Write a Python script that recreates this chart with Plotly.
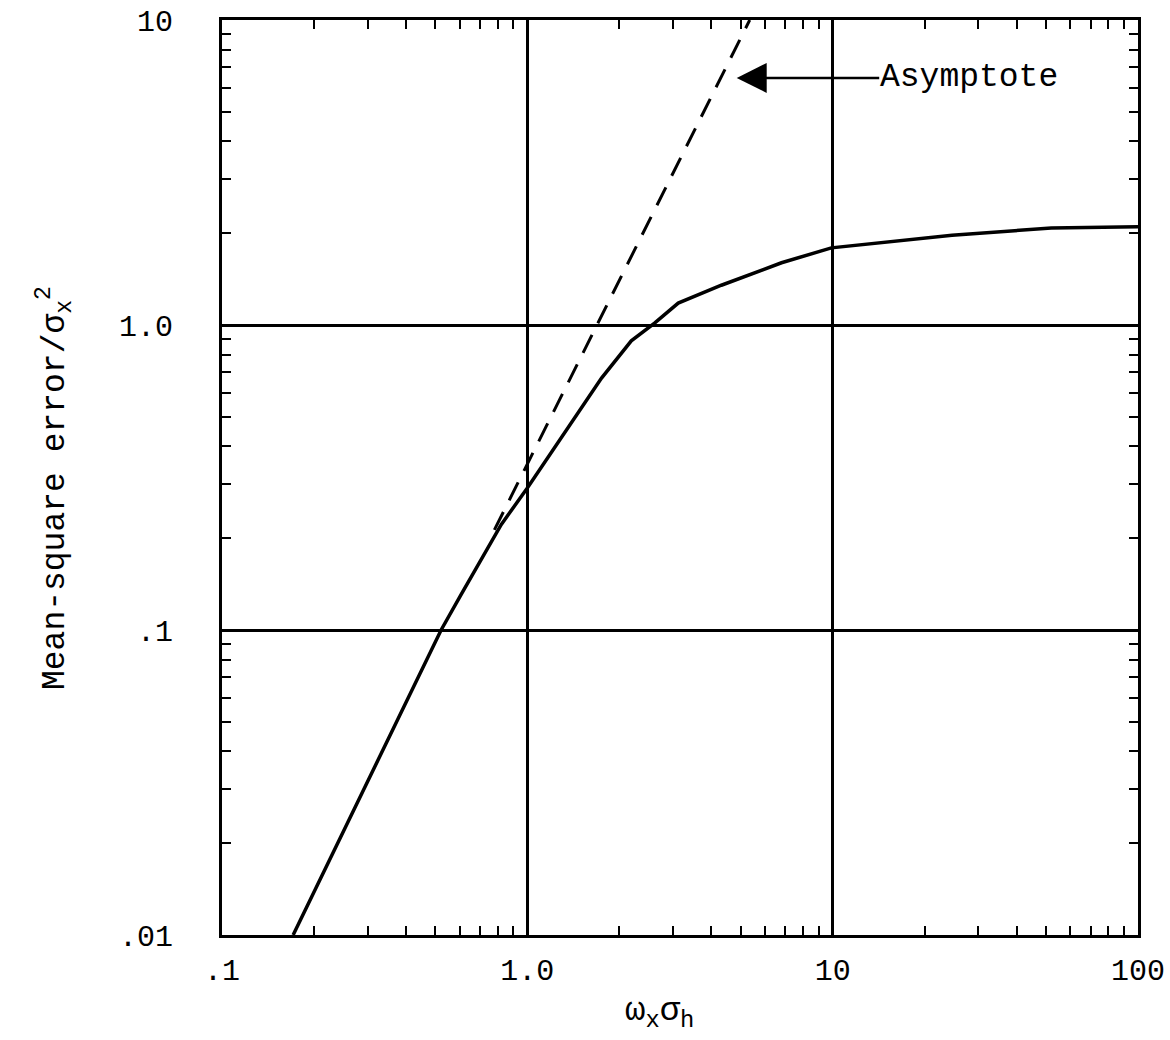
import math
import plotly.graph_objects as go

# Solid curve: mean-square error / sigma_x^2 vs omega_x*sigma_h
curve_x = [0.171, 0.522, 0.608, 0.822, 1.0, 1.36, 1.75, 2.19, 2.61, 3.12, 4.32, 6.8, 9.9, 24.6, 52.0, 100.0]
curve_y = [0.01, 0.10, 0.131, 0.222, 0.292, 0.46, 0.67, 0.887, 1.015, 1.18, 1.35, 1.60, 1.79, 1.97, 2.08, 2.10]

# Dashed asymptote
asym_x = [0.78, 5.35]
asym_y = [0.213, 10.0]

x_tickvals = [0.1, 1, 10, 100]
x_ticktext = [".1", "1.0", "10", "100"]
y_tickvals = [0.01, 0.1, 1, 10]
y_ticktext = [".01", ".1", "1.0", "10"]

arrow_head = (4.85, 6.46)
label_text = "Asymptote"
x_title = "ω<sub>x</sub>σ<sub>h</sub>"
y_title = "Mean-square error/σ<sub>x</sub><sup>2</sup>"

FONT = "Liberation Mono, Courier New, monospace"

W, H = 1170, 1040
L, R, T, B = 222, 32, 20, 105
PW, PH = W - L - R, H - T - B


def px_to_paper_x(px):
    return (px - L) / PW


def px_to_paper_y(py):
    return (T + PH - py) / PH


fig = go.Figure()
fig.add_trace(go.Scatter(x=curve_x, y=curve_y, mode="lines",
                         line=dict(color="black", width=3.5), showlegend=False))
fig.add_trace(go.Scatter(x=asym_x, y=asym_y, mode="lines",
                         line=dict(color="black", width=3, dash="20px,13px"), showlegend=False))

fig.add_annotation(x=math.log10(arrow_head[0]), y=math.log10(arrow_head[1]),
                   xref="x", yref="y", text=label_text, showarrow=True,
                   ax=232, ay=0, arrowhead=2, arrowsize=2.4, arrowwidth=2.5,
                   arrowcolor="black", standoff=0, borderpad=0,
                   font=dict(family=FONT, size=33, color="black"))

# axis titles as annotations (placed in paper coords from pixel estimates)
fig.add_annotation(xref="paper", yref="paper", x=px_to_paper_x(659), y=px_to_paper_y(1013),
                   xanchor="center", yanchor="middle", showarrow=False, text=x_title,
                   font=dict(family=FONT, size=34, color="black"))
fig.add_annotation(xref="paper", yref="paper", x=px_to_paper_x(54), y=px_to_paper_y(488),
                   xanchor="center", yanchor="middle", showarrow=False, text=y_title,
                   textangle=-90, font=dict(family=FONT, size=33, color="black"))

axis_common = dict(
    type="log", showline=True, linecolor="black", linewidth=3, mirror="allticks",
    showgrid=True, gridcolor="black", gridwidth=2.5, zeroline=False, automargin=False,
    ticks="inside", ticklen=0, tickcolor="black", ticklabeloverflow="allow",
    tickfont=dict(family=FONT, size=30, color="black"),
    minor=dict(ticks="inside", ticklen=9, tickwidth=2, tickcolor="black",
               dtick="D1", showgrid=False),
)

fig.update_xaxes(**axis_common, range=[-1, 2], tickvals=x_tickvals, ticktext=x_ticktext,
                 ticklabelstandoff=6)
fig.update_yaxes(**axis_common, range=[-2, 1], tickvals=y_tickvals, ticktext=y_ticktext,
                 ticklabelstandoff=40)

fig.update_layout(width=W, height=H, margin=dict(l=L, r=R, t=T, b=B),
                  paper_bgcolor="white", plot_bgcolor="white", showlegend=False)

fig.write_html("out.html", config={"displayModeBar": False},
               post_script="document.body.style.margin='0px';document.body.style.overflow='hidden';")
